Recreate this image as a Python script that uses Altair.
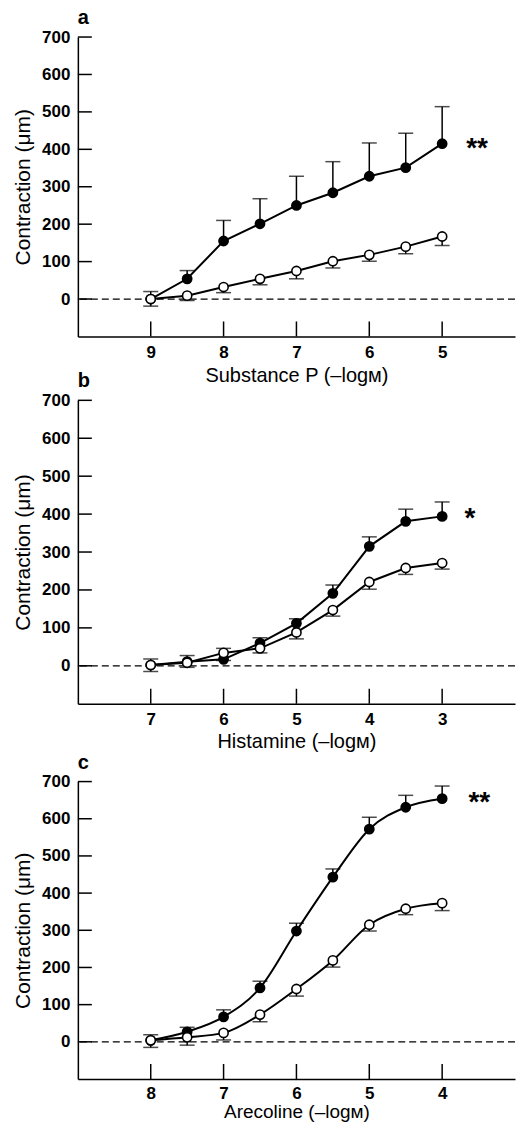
import altair as alt
import pandas as pd

FONT = "Liberation Sans"

# ---------------- data ----------------
# Panel a: Substance P
a_x = [9, 8.5, 8, 7.5, 7, 6.5, 6, 5.5, 5]
a_filled = [0, 54, 155, 201, 250, 284, 328, 351, 415]
a_filled_sem = [20, 22, 55, 67, 78, 83, 89, 92, 99]
a_open = [0, 9, 32, 54, 75, 101, 118, 140, 167]
a_open_sem = [19, 13, 15, 16, 21, 18, 17, 19, 24]
a_xticks = [9, 8, 7, 6, 5]

# Panel b: Histamine
b_x = [7, 6.5, 6, 5.5, 5, 4.5, 4, 3.5, 3]
b_filled = [2, 11, 17, 60, 112, 191, 315, 381, 394]
b_filled_sem = [16, 16, 29, 14, 12, 22, 25, 32, 38]
b_open = [2, 8, 34, 46, 88, 147, 221, 258, 271]
b_open_sem = [17, 12, 20, 12, 17, 16, 19, 17, 16]
b_xticks = [7, 6, 5, 4, 3]

# Panel c: Arecoline
c_x = [8, 7.5, 7, 6.5, 6, 5.5, 5, 4.5, 4]
c_filled = [4, 27, 67, 145, 298, 443, 572, 631, 654]
c_filled_sem = [15, 12, 19, 18, 21, 22, 32, 32, 34]
c_open = [4, 12, 24, 73, 142, 219, 315, 358, 373]
c_open_sem = [19, 21, 19, 19, 19, 18, 17, 16, 20]
c_xticks = [8, 7, 6, 5, 4]

y_ticks = [0, 100, 200, 300, 400, 500, 600, 700]
labels = ["a", "b", "c"]
x_titles = ["Substance P (–logм)", "Histamine (–logм)", "Arecoline  (–logм)"]
x_domains = [[4, 10], [2, 8], [3, 9]]
stars = ["**", "*", "**"]
star_x = [4.52, 2.62, 3.49]
star_y = [415, 400, 655]
y_title = "Contraction (μm)"

W = 438


def panel(idx, xs, fm, fsem, om, osem, xticks, h, interp, lpad, tpad, tsize):
    xdom = x_domains[idx]
    xs_scale = alt.Scale(domain=xdom, reverse=True, nice=False, zero=False)
    ys_scale = alt.Scale(domain=[-100, 700], nice=False, zero=False)

    filled = pd.DataFrame({"x": xs, "y": fm, "e": [m + s for m, s in zip(fm, fsem)]})
    opn = pd.DataFrame({"x": xs, "y": om, "e": [m - s for m, s in zip(om, osem)]})

    xaxis = alt.Axis(values=xticks, format="d", ticks=False, grid=False,
                     labelFont=FONT, labelFontSize=17, labelFontWeight="bold",
                     labelColor="black", labelPadding=lpad,
                     domainColor="black", domainWidth=1.5,
                     titleFont=FONT, titleFontSize=tsize, titleFontWeight="normal",
                     titleColor="black", titlePadding=tpad)
    yaxis = alt.Axis(values=y_ticks, ticks=False, grid=False,
                     labelFont=FONT, labelFontSize=17, labelFontWeight="bold",
                     labelColor="black", labelPadding=8,
                     domainColor="black", domainWidth=1.5,
                     titleFont=FONT, titleFontSize=21, titleFontWeight="normal",
                     titleColor="black", titlePadding=8)

    def X(f):
        return alt.X(f, scale=xs_scale, axis=xaxis, title=x_titles[idx])

    def Y(f):
        return alt.Y(f, scale=ys_scale, axis=yaxis, title=y_title)

    zero = alt.Chart(pd.DataFrame({"z": [0]})).mark_rule(
        color="black", strokeWidth=1.3, strokeDash=[7, 4]
    ).encode(y=Y("z:Q"))

    ytick_layer = alt.Chart(pd.DataFrame({"t": y_ticks})).mark_rule(
        color="black", strokeWidth=1.5
    ).encode(y=Y("t:Q"), x=alt.value(0), x2=alt.value(14))

    xtick_layer = alt.Chart(pd.DataFrame({"t": xticks})).mark_rule(
        color="black", strokeWidth=1.5
    ).encode(x=X("t:Q"), y=alt.value(h - 15), y2=alt.value(h))

    def series(df, fill):
        b = alt.Chart(df)
        bar = b.mark_rule(color="black", strokeWidth=1.5).encode(x=X("x:Q"), y=Y("y:Q"), y2="e:Q")
        cap = b.mark_tick(color="black", orient="horizontal", size=15, thickness=1.5).encode(
            x=X("x:Q"), y=Y("e:Q"))
        line = b.mark_line(color="black", strokeWidth=2, interpolate=interp).encode(
            x=X("x:Q"), y=Y("y:Q"))
        pts = b.mark_point(shape="circle", filled=True, fill=fill, stroke="black",
                           strokeWidth=1.6, size=85, opacity=1).encode(x=X("x:Q"), y=Y("y:Q"))
        return bar, cap, line, pts

    fb, fc, fl, fp = series(filled, "black")
    ob, oc, ol, op = series(opn, "white")

    star_layer = alt.Chart(pd.DataFrame({"sx": [star_x[idx]], "sy": [star_y[idx]],
                                         "s": [stars[idx]]})).mark_text(
        font=FONT, fontSize=28, fontWeight="bold", color="black", baseline="middle",
        align="center", dy=5
    ).encode(x=X("sx:Q"), y=Y("sy:Q"), text="s:N")

    return alt.layer(
        zero, ytick_layer, xtick_layer,
        fb, ob, fc, oc, fl, ol, fp, op, star_layer
    ).properties(
        width=W, height=h,
        title=alt.TitleParams(labels[idx], anchor="start", frame="group", font=FONT,
                              fontSize=20, fontWeight="bold", color="black", offset=0),
    )


pa = panel(0, a_x, a_filled, a_filled_sem, a_open, a_open_sem, a_xticks, 300, "linear", 8, 5, 20)
pb = panel(1, b_x, b_filled, b_filled_sem, b_open, b_open_sem, b_xticks, 304, "linear", 8, 4, 20)
pc = panel(2, c_x, c_filled, c_filled_sem, c_open, c_open_sem, c_xticks, 298, "monotone", 7, 1, 19)

chart = alt.vconcat(
    alt.vconcat(pa, pb, spacing=-16),
    pc, spacing=-1,
).properties(
    padding={"left": 4, "top": -2, "right": 0, "bottom": 0}
).configure_view(stroke="transparent")

chart.save("out.html", embed_options={"renderer": "svg", "actions": False})
